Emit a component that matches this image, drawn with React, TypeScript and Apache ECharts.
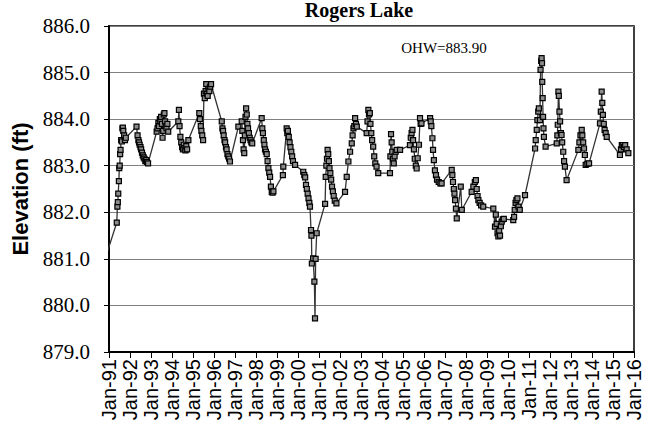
import React, { useEffect, useRef } from "react";
import * as echarts from "echarts";

// Decimal years, with the lake elevation (ft) at each reading
const years: number[] = [
  1990.67, 1991.37, 1991.4, 1991.42, 1991.44, 1991.47, 1991.49, 1991.51, 1991.53, 1991.55,
  1991.58, 1991.61, 1991.64, 1991.66, 1991.68, 1991.72, 1991.76, 1991.8,
  1992.31, 1992.36, 1992.4, 1992.43, 1992.46, 1992.5, 1992.53, 1992.57, 1992.61, 1992.65,
  1992.69, 1992.73, 1992.77, 1992.81, 1992.86,
  1993.27, 1993.31, 1993.35, 1993.38, 1993.42, 1993.45, 1993.48, 1993.52, 1993.55, 1993.58,
  1993.61, 1993.64, 1993.67, 1993.7, 1993.74, 1993.78, 1993.82,
  1994.3, 1994.33, 1994.36, 1994.4, 1994.44, 1994.48, 1994.52, 1994.56, 1994.6, 1994.64,
  1994.68, 1994.72, 1994.78,
  1995.3, 1995.33, 1995.37, 1995.4, 1995.44, 1995.48, 1995.52, 1995.56, 1995.6, 1995.63,
  1995.66, 1995.7, 1995.74, 1995.78, 1995.82, 1995.86,
  1996.37, 1996.4, 1996.43, 1996.46, 1996.5, 1996.53, 1996.57, 1996.6, 1996.64, 1996.68,
  1996.72, 1996.76,
  1997.16, 1997.32, 1997.35, 1997.38, 1997.41, 1997.44, 1997.47, 1997.5, 1997.53, 1997.56,
  1997.59, 1997.62, 1997.66, 1997.7, 1997.74, 1997.78, 1997.82,
  1998.27, 1998.3, 1998.33, 1998.37, 1998.4, 1998.43, 1998.47, 1998.51, 1998.55, 1998.59,
  1998.63, 1998.67, 1998.71, 1998.75, 1998.79, 1998.83,
  1999.28, 1999.3, 1999.46, 1999.49, 1999.52, 1999.56, 1999.6, 1999.64, 1999.68, 1999.72,
  1999.76, 1999.86,
  2000.25, 2000.3, 2000.34, 2000.38, 2000.42, 2000.46, 2000.5, 2000.54, 2000.57, 2000.62,
  2000.64, 2000.66, 2000.72, 2000.78, 2000.81, 2000.84, 2000.89,
  2001.29, 2001.32, 2001.35, 2001.38, 2001.41, 2001.44, 2001.47, 2001.5, 2001.54, 2001.58,
  2001.62, 2001.66, 2001.7, 2001.75, 2001.83,
  2002.24, 2002.32, 2002.4, 2002.48, 2002.56, 2002.6, 2002.64, 2002.68, 2002.72, 2002.76,
  2002.8,
  2003.27, 2003.31, 2003.35, 2003.38, 2003.42, 2003.45, 2003.49, 2003.53, 2003.58, 2003.63,
  2003.68, 2003.74, 2003.82,
  2004.38, 2004.4, 2004.43, 2004.46, 2004.49, 2004.52, 2004.56, 2004.6, 2004.65, 2004.7,
  2004.86,
  2005.33, 2005.37, 2005.41, 2005.45, 2005.48, 2005.52, 2005.56, 2005.61, 2005.65, 2005.7,
  2005.76, 2005.81, 2005.84, 2005.88,
  2006.29, 2006.32, 2006.35, 2006.4, 2006.43, 2006.47, 2006.52, 2006.57, 2006.62, 2006.7,
  2006.78, 2006.84,
  2007.32, 2007.35, 2007.38, 2007.42, 2007.45, 2007.48, 2007.52, 2007.56, 2007.75, 2007.8,
  2008.27, 2008.35, 2008.42, 2008.47, 2008.51, 2008.55, 2008.59, 2008.65, 2008.72, 2008.82,
  2009.3, 2009.38, 2009.42, 2009.46, 2009.5, 2009.54, 2009.58, 2009.62, 2009.66, 2009.7,
  2009.75, 2009.8,
  2010.25, 2010.29, 2010.32, 2010.36, 2010.4, 2010.45, 2010.5, 2010.56, 2010.81,
  2011.29, 2011.32, 2011.37, 2011.4, 2011.44, 2011.47, 2011.52, 2011.55, 2011.58, 2011.6,
  2011.62, 2011.63, 2011.65, 2011.67, 2011.69, 2011.71, 2011.79,
  2012.32, 2012.35, 2012.37, 2012.4, 2012.42, 2012.45, 2012.48, 2012.52, 2012.55, 2012.58,
  2012.63, 2012.67, 2012.71, 2012.79,
  2013.35, 2013.4, 2013.45, 2013.51, 2013.54, 2013.58, 2013.62, 2013.66, 2013.7, 2013.78,
  2013.86,
  2014.38, 2014.42, 2014.46, 2014.49, 2014.52, 2014.56, 2014.6, 2014.65, 2014.7,
  2015.33, 2015.38, 2015.42, 2015.46, 2015.52, 2015.58, 2015.65, 2015.73,
];

const elevations: number[] = [
  880.8, 881.78, 882.12, 882.22, 882.4, 882.67, 882.95, 883.0, 883.25, 883.34,
  883.55, 883.52, 883.8, 883.82, 883.75, 883.65, 883.55, 883.6,
  883.84, 883.65, 883.55, 883.5, 883.45, 883.4, 883.35, 883.28, 883.22, 883.18,
  883.15, 883.1, 883.12, 883.08, 883.05,
  883.73, 883.8, 883.92, 883.85, 884.0, 883.95, 884.05, 883.9, 883.6, 883.75,
  884.1, 884.13, 883.95, 883.85, 883.8, 883.9, 883.73,
  883.95, 884.2, 883.85, 883.62, 883.5, 883.4, 883.35, 883.45, 883.38, 883.33,
  883.42, 883.35, 883.55,
  884.13, 884.0, 883.85, 883.75, 883.65, 883.55, 884.55, 884.45, 884.6, 884.75,
  884.55, 884.5, 884.65, 884.6, 884.7, 884.75,
  883.95, 883.8, 883.75, 883.65, 883.55, 883.5, 883.4, 883.35, 883.25, 883.2,
  883.15, 883.09,
  883.84, 883.95, 883.75, 883.55, 883.35, 883.27, 883.65, 884.05, 884.23, 884.1,
  883.9, 883.8, 883.7, 883.6, 883.55, 883.5, 883.48,
  884.02, 883.8, 883.7, 883.55, 883.45, 883.35, 883.3, 883.25, 883.1, 882.95,
  882.85, 882.76, 882.55, 882.44, 882.42, 882.45,
  882.8, 882.98, 883.8, 883.7, 883.75, 883.62, 883.5, 883.4, 883.3, 883.2,
  883.1, 883.02,
  882.87, 882.8, 882.75, 882.59, 882.5, 882.4, 882.3, 882.2, 882.12, 881.62,
  881.5, 880.9, 881.01, 880.51, 879.72, 881.0, 881.55,
  882.18, 882.76, 883.0, 883.15, 883.34, 883.25, 883.1, 882.95, 882.84, 882.7,
  882.55, 882.45, 882.35, 882.25, 882.19,
  882.44, 882.76, 883.09, 883.3, 883.48, 883.65, 883.8, 883.85, 884.02, 883.9,
  883.84,
  883.7, 883.95, 884.2, 884.1, 884.13, 883.9, 883.7, 883.55, 883.41, 883.2,
  883.05, 882.98, 882.84,
  882.84, 883.2, 883.68, 883.5, 883.3, 883.15, 883.05, 883.2, 883.3, 883.34,
  883.34,
  883.44, 883.6, 883.7, 883.77, 883.55, 883.35, 883.15, 883.0, 882.94, 883.16,
  883.45, 884.02, 883.9, 883.91,
  884.02, 883.95, 883.85, 883.59, 883.34, 883.12, 882.9, 882.8, 882.7, 882.65,
  882.62, 882.62,
  882.91, 882.8, 882.65, 882.5, 882.4, 882.26, 882.08, 881.87, 882.55, 882.05,
  882.44, 882.55, 882.65, 882.69, 882.5, 882.35, 882.26, 882.2, 882.15, 882.12,
  882.08, 881.69, 881.95, 881.75, 881.55, 881.48, 881.6, 881.5, 881.7, 881.8,
  881.85, 881.86,
  881.83, 881.9, 882.05, 882.2, 882.26, 882.3, 882.12, 882.05, 882.37,
  883.37, 883.55, 883.77, 883.98, 884.16, 884.23, 883.98, 885.06, 885.25, 885.31,
  885.2, 884.8, 884.45, 884.05, 883.8, 883.62, 883.41,
  883.48, 883.65, 883.88, 884.59, 884.5, 884.16, 883.95, 883.7, 883.66, 883.5,
  883.3, 883.1, 882.98, 882.69,
  883.34, 883.5, 883.65, 883.77, 883.65, 883.5, 883.37, 883.23, 883.02, 883.04,
  883.05,
  883.91, 884.16, 884.59, 884.35, 884.09, 883.9, 883.77, 883.7, 883.62,
  883.23, 883.35, 883.44, 883.44, 883.4, 883.44, 883.35, 883.27,
];

const titleText = "Rogers Lake";
const yAxisName = "Elevation (ft)";
const annotation = "OHW=883.90";
const yMin = 879;
const yMax = 886;
const xMin = 1991;
const xMax = 2016;

export default function App() {
  const ref = useRef<HTMLDivElement>(null);
  useEffect(() => {
    if (!ref.current) return;
    const chart = echarts.init(ref.current, null, { renderer: "svg" });
    const data = years.map((y, i) => [y, elevations[i]]);
    chart.setOption({
      animation: false,
      backgroundColor: "#ffffff",
      grid: {
        left: 109,
        top: 26,
        right: 24,
        bottom: 84,
        show: true,
        borderColor: "#000",
        borderWidth: 1.5,
        backgroundColor: "transparent",
      },
      graphic: [
        {
          type: "text",
          x: 359,
          y: 10,
          style: {
            text: titleText,
            font: "bold 20px 'Liberation Serif', 'Times New Roman', serif",
            fill: "#000",
            textAlign: "center",
            textVerticalAlign: "middle",
          },
        },
        {
          type: "text",
          x: 444,
          y: 48,
          z: 10,
          style: {
            text: annotation,
            font: "15px 'Liberation Serif', 'Times New Roman', serif",
            fill: "#000",
            textAlign: "center",
            textVerticalAlign: "middle",
          },
        },
      ],
      xAxis: {
        type: "value",
        min: xMin,
        max: xMax,
        interval: 1,
        splitLine: { show: false },
        axisLine: { show: true, onZero: false, lineStyle: { color: "#000", width: 2 } },
        axisTick: { show: true, inside: false, length: 6, lineStyle: { color: "#000", width: 1 } },
        axisLabel: {
          rotate: 90,
          margin: 7,
          color: "#000",
          fontSize: 20,
          fontFamily: "'Liberation Sans', Arial, sans-serif",
          formatter: (v: number) => "Jan-" + String(Math.round(v) % 100).padStart(2, "0"),
        },
      },
      yAxis: {
        type: "value",
        min: yMin,
        max: yMax,
        interval: 1,
        name: yAxisName,
        nameLocation: "middle",
        nameGap: 77,
        nameTextStyle: {
          fontSize: 22,
          fontWeight: "bold",
          fontFamily: "'Liberation Sans', Arial, sans-serif",
          color: "#000",
        },
        axisLine: { show: true, lineStyle: { color: "#000", width: 2 } },
        axisTick: { show: true, inside: false, length: 5, lineStyle: { color: "#000", width: 1 } },
        splitLine: { show: true, lineStyle: { color: "#808080", width: 1 } },
        axisLabel: {
          margin: 19,
          color: "#000",
          fontSize: 21,
          fontFamily: "'Liberation Serif', 'Times New Roman', serif",
          formatter: (v: number) => v.toFixed(1),
        },
      },
      series: [
        {
          type: "line",
          data,
          clip: true,
          symbol: "rect",
          symbolSize: 5,
          showAllSymbol: true,
          lineStyle: { color: "#333", width: 1.3 },
          itemStyle: { color: "#8c8c8c", borderColor: "#000", borderWidth: 1.2 },
        },
      ],
    });
    return () => chart.dispose();
  }, []);
  return <div ref={ref} style={{ width: 658, height: 436, position: "absolute", left: 0, top: 0 }} />;
}
